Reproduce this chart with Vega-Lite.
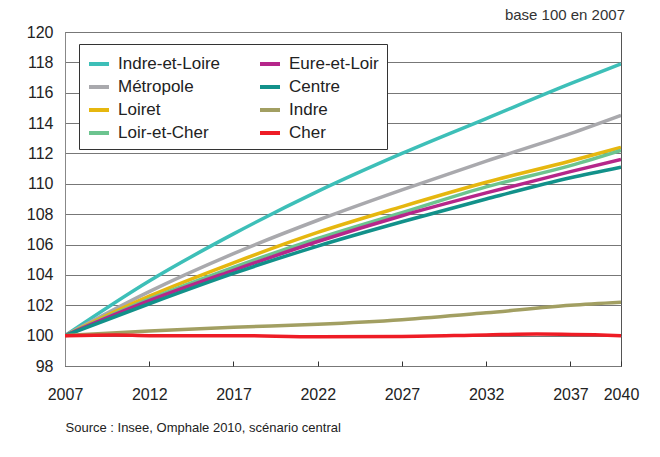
{
  "$schema": "https://vega.github.io/schema/vega-lite/v6.json",
  "autosize": {"type": "none"},
  "padding": {"left": 65, "top": 32, "right": 39, "bottom": 91},
  "width": 556,
  "height": 334,
  "background": "white",
  "title": {
    "text": "base 100 en 2007",
    "anchor": "end",
    "orient": "top",
    "frame": "group",
    "offset": 1,
    "font": "Arial",
    "fontSize": 15,
    "fontWeight": "normal",
    "color": "#333333",
    "dx": 4
  },
  "config": {
    "view": {"stroke": "#555555", "strokeWidth": 1},
    "font": "Arial"
  },
  "data": {
    "values": [
      {"serie": "Indre-et-Loire", "annee": 2007, "valeur": 100},
      {"serie": "Indre-et-Loire", "annee": 2012, "valeur": 103.6},
      {"serie": "Indre-et-Loire", "annee": 2017, "valeur": 106.7},
      {"serie": "Indre-et-Loire", "annee": 2022, "valeur": 109.5},
      {"serie": "Indre-et-Loire", "annee": 2027, "valeur": 112.0},
      {"serie": "Indre-et-Loire", "annee": 2032, "valeur": 114.3},
      {"serie": "Indre-et-Loire", "annee": 2037, "valeur": 116.6},
      {"serie": "Indre-et-Loire", "annee": 2040, "valeur": 117.9},
      {"serie": "Métropole", "annee": 2007, "valeur": 100},
      {"serie": "Métropole", "annee": 2012, "valeur": 102.9},
      {"serie": "Métropole", "annee": 2017, "valeur": 105.4},
      {"serie": "Métropole", "annee": 2022, "valeur": 107.6},
      {"serie": "Métropole", "annee": 2027, "valeur": 109.6},
      {"serie": "Métropole", "annee": 2032, "valeur": 111.5},
      {"serie": "Métropole", "annee": 2037, "valeur": 113.3},
      {"serie": "Métropole", "annee": 2040, "valeur": 114.5},
      {"serie": "Loiret", "annee": 2007, "valeur": 100},
      {"serie": "Loiret", "annee": 2012, "valeur": 102.6},
      {"serie": "Loiret", "annee": 2017, "valeur": 104.8},
      {"serie": "Loiret", "annee": 2022, "valeur": 106.8},
      {"serie": "Loiret", "annee": 2027, "valeur": 108.5},
      {"serie": "Loiret", "annee": 2032, "valeur": 110.1},
      {"serie": "Loiret", "annee": 2037, "valeur": 111.5},
      {"serie": "Loiret", "annee": 2040, "valeur": 112.4},
      {"serie": "Loir-et-Cher", "annee": 2007, "valeur": 100},
      {"serie": "Loir-et-Cher", "annee": 2012, "valeur": 102.4},
      {"serie": "Loir-et-Cher", "annee": 2017, "valeur": 104.5},
      {"serie": "Loir-et-Cher", "annee": 2022, "valeur": 106.4},
      {"serie": "Loir-et-Cher", "annee": 2027, "valeur": 108.1},
      {"serie": "Loir-et-Cher", "annee": 2032, "valeur": 109.8},
      {"serie": "Loir-et-Cher", "annee": 2037, "valeur": 111.2},
      {"serie": "Loir-et-Cher", "annee": 2040, "valeur": 112.2},
      {"serie": "Eure-et-Loir", "annee": 2007, "valeur": 100},
      {"serie": "Eure-et-Loir", "annee": 2012, "valeur": 102.3},
      {"serie": "Eure-et-Loir", "annee": 2017, "valeur": 104.3},
      {"serie": "Eure-et-Loir", "annee": 2022, "valeur": 106.2},
      {"serie": "Eure-et-Loir", "annee": 2027, "valeur": 107.9},
      {"serie": "Eure-et-Loir", "annee": 2032, "valeur": 109.4},
      {"serie": "Eure-et-Loir", "annee": 2037, "valeur": 110.8},
      {"serie": "Eure-et-Loir", "annee": 2040, "valeur": 111.6},
      {"serie": "Centre", "annee": 2007, "valeur": 100},
      {"serie": "Centre", "annee": 2012, "valeur": 102.1},
      {"serie": "Centre", "annee": 2017, "valeur": 104.1},
      {"serie": "Centre", "annee": 2022, "valeur": 105.9},
      {"serie": "Centre", "annee": 2027, "valeur": 107.5},
      {"serie": "Centre", "annee": 2032, "valeur": 109.0},
      {"serie": "Centre", "annee": 2037, "valeur": 110.4},
      {"serie": "Centre", "annee": 2040, "valeur": 111.1},
      {"serie": "Indre", "annee": 2007, "valeur": 100},
      {"serie": "Indre", "annee": 2012, "valeur": 100.3},
      {"serie": "Indre", "annee": 2017, "valeur": 100.55},
      {"serie": "Indre", "annee": 2022, "valeur": 100.75},
      {"serie": "Indre", "annee": 2027, "valeur": 101.05},
      {"serie": "Indre", "annee": 2032, "valeur": 101.5},
      {"serie": "Indre", "annee": 2037, "valeur": 102.0},
      {"serie": "Indre", "annee": 2040, "valeur": 102.2},
      {"serie": "Cher", "annee": 2007, "valeur": 100},
      {"serie": "Cher", "annee": 2010, "valeur": 100.05},
      {"serie": "Cher", "annee": 2012, "valeur": 100.0},
      {"serie": "Cher", "annee": 2017, "valeur": 100.0},
      {"serie": "Cher", "annee": 2022, "valeur": 99.93},
      {"serie": "Cher", "annee": 2027, "valeur": 99.95},
      {"serie": "Cher", "annee": 2032, "valeur": 100.05},
      {"serie": "Cher", "annee": 2035, "valeur": 100.1},
      {"serie": "Cher", "annee": 2040, "valeur": 100.0}
    ]
  },
  "mark": {"type": "line", "strokeWidth": 3.5, "interpolate": "monotone", "clip": true},
  "encoding": {
    "x": {
      "field": "annee",
      "type": "quantitative",
      "scale": {"domain": [2007, 2040], "nice": false, "zero": false},
      "axis": {
        "values": [2007, 2012, 2017, 2022, 2027, 2032, 2037, 2040],
        "format": "d",
        "grid": false,
        "domain": false,
        "ticks": true,
        "tickSize": -5,
        "tickColor": "#333333",
        "labelPadding": 25,
        "labelFontSize": 16,
        "labelColor": "#222222",
        "labelFont": "Arial",
        "labelOverlap": false,
        "labelFlush": false,
        "title": "Source : Insee, Omphale 2010, scénario central",
        "titleAnchor": "start",
        "titleAlign": "left",
        "titleFont": "Arial",
        "titleFontSize": 13,
        "titleFontWeight": "normal",
        "titleColor": "#222222",
        "titlePadding": 19
      }
    },
    "y": {
      "field": "valeur",
      "type": "quantitative",
      "scale": {"domain": [98, 120], "nice": false, "zero": false},
      "axis": {
        "values": [98, 100, 102, 104, 106, 108, 110, 112, 114, 116, 118, 120],
        "grid": true,
        "gridColor": "#777777",
        "gridWidth": 1,
        "domain": true,
        "domainColor": "#888888",
        "ticks": false,
        "labelPadding": 12,
        "labelFontSize": 16,
        "labelColor": "#222222",
        "labelFont": "Arial",
        "title": null
      }
    },
    "color": {
      "field": "serie",
      "type": "nominal",
      "scale": {
        "domain": ["Indre-et-Loire", "Métropole", "Loiret", "Loir-et-Cher", "Eure-et-Loir", "Centre", "Indre", "Cher"],
        "range": ["#3dbfb8", "#a9a9ad", "#e6b70f", "#6cc48f", "#b5268a", "#12918a", "#a29f62", "#ee1c25"]
      },
      "legend": {
        "title": null,
        "orient": "none",
        "legendX": 14,
        "legendY": 12,
        "columns": 2,
        "columnPadding": 31,
        "rowPadding": 3,
        "symbolType": "stroke",
        "symbolSize": 400,
        "symbolStrokeWidth": 4,
        "labelFontSize": 17,
        "labelFont": "Arial",
        "labelColor": "#222222",
        "labelOffset": 7,
        "strokeColor": "#333333",
        "padding": 8,
        "fillColor": "white"
      }
    }
  }
}
